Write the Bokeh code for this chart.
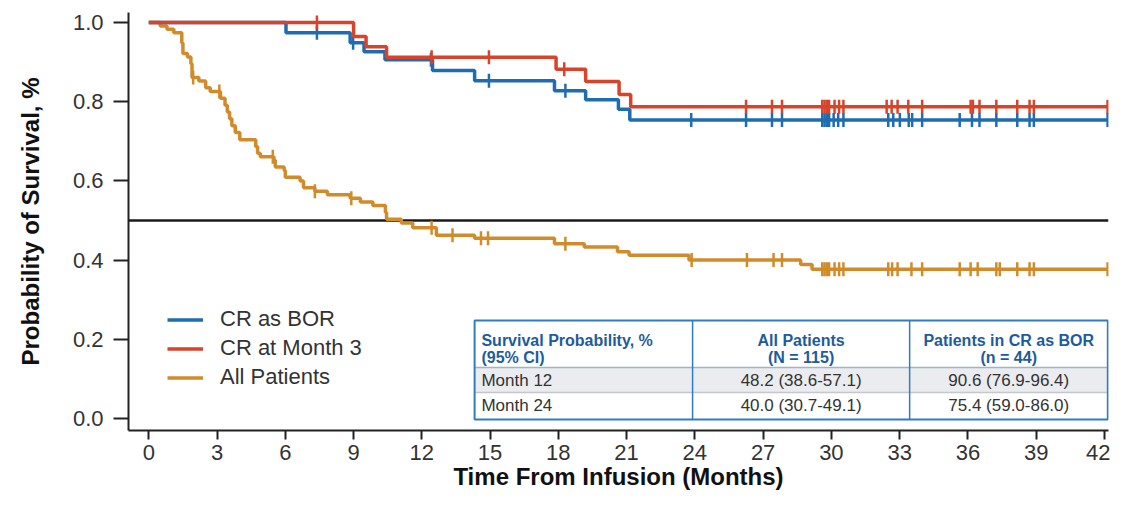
import numpy as np
from bokeh.plotting import figure
from bokeh.models import Span, Legend, LegendItem, FixedTicker, Range1d
from bokeh.core.properties import value
from bokeh.embed import file_html
from bokeh.resources import INLINE

# ---------------- data ----------------
x_ticks = list(range(0, 43, 3))
y_ticks = [0.0, 0.2, 0.4, 0.6, 0.8, 1.0]
y_tick_labels = ["0.0", "0.2", "0.4", "0.6", "0.8", "1.0"]

series_names = ["CR as BOR", "CR at Month 3", "All Patients"]

bor_time = [0, 6.03, 8.85, 9.46, 10.38, 12.47, 14.32, 17.83, 19.2, 20.64, 21.14, 42.14]
bor_surv = [1.0, 0.974, 0.949, 0.926, 0.906, 0.879, 0.853, 0.828, 0.805, 0.781, 0.754, 0.754]
bor_censor = [7.39, 8.98, 12.4, 14.95, 18.31, 23.84, 26.25, 27.39, 27.83, 29.6, 29.7, 29.8,
              29.9, 30.1, 30.3, 30.53, 32.5, 32.72, 33.01, 33.4, 33.55, 33.99, 35.64, 36.18,
              36.51, 37.25, 38.17, 38.71, 38.9, 42.14]

m3_time = [0, 9.0, 9.55, 10.45, 17.9, 19.2, 20.67, 21.18, 42.14]
m3_surv = [1.0, 0.965, 0.939, 0.912, 0.882, 0.851, 0.818, 0.787, 0.787]
m3_censor = [7.39, 12.43, 14.95, 18.26, 26.25, 27.39, 27.83, 29.6, 29.7, 29.8, 29.9, 30.14,
             30.34, 30.53, 32.43, 32.65, 32.91, 33.38, 33.99, 36.12, 36.22, 36.51, 37.25,
             38.17, 38.71, 38.9, 42.14]

all_time = [0, 0.5, 0.8, 1.1, 1.45, 1.5, 1.7, 1.85, 1.9, 2.2, 2.5, 2.7, 3.15, 3.35, 3.45,
            3.55, 3.65, 3.8, 4.0, 4.7, 4.78, 4.9, 5.5, 5.56, 5.95, 6.0, 6.65, 6.8, 7.3, 7.85,
            8.85, 9.3, 9.85, 10.4, 10.45, 11.1, 11.6, 12.64, 14.32, 17.83, 19.14, 20.6,
            21.11, 23.74, 28.65, 29.15, 42.14]
all_surv = [1.0, 0.991, 0.983, 0.974, 0.948, 0.922, 0.913, 0.896, 0.861, 0.852, 0.835,
            0.826, 0.809, 0.791, 0.774, 0.757, 0.739, 0.722, 0.704, 0.687, 0.670, 0.661,
            0.652, 0.635, 0.626, 0.609, 0.600, 0.583, 0.574, 0.565, 0.556, 0.547, 0.538,
            0.520, 0.503, 0.494, 0.482, 0.463, 0.455, 0.441, 0.433, 0.421, 0.412, 0.400,
            0.389, 0.377, 0.377]
all_censor = [1.95, 3.1, 5.45, 7.3, 8.9, 12.43, 13.35, 14.6, 14.91, 18.31, 23.86, 26.29,
              27.46, 27.83, 29.6, 29.7, 29.8, 29.9, 30.14, 30.34, 30.53, 32.5, 32.67, 32.91,
              33.52, 33.99, 35.64, 36.12, 36.43, 37.25, 37.4, 38.17, 38.71, 38.9, 42.14]

median_line = 0.5

table_header = [["Survival Probability, %", "(95% CI)"],
                ["All Patients", "(N = 115)"],
                ["Patients in CR as BOR", "(n = 44)"]]
table_rows = [["Month 12", "48.2 (38.6-57.1)", "90.6 (76.9-96.4)"],
              ["Month 24", "40.0 (30.7-49.1)", "75.4 (59.0-86.0)"]]

# ---------------- styles ----------------
BLUE = "#1f6db1"
RED = "#d8432a"
GOLD = "#d18b2a"
TBL_BLUE = "#2f7dc0"
HDR_BLUE = "#1d5c9c"
TXT = "#333333"
FONT = "Liberation Sans"

X0, X1 = -0.892, 42.18
Y0, Y1 = -0.0303, 1.0253

p = figure(width=1110, height=494, x_range=Range1d(X0, X1), y_range=Range1d(Y0, Y1),
           output_backend="svg", toolbar_location=None,
           min_border_left=128, min_border_right=2, min_border_top=12, min_border_bottom=64)
p.outline_line_color = None
p.xgrid.visible = False
p.ygrid.visible = False
p.background_fill_color = "white"

# axes
p.xaxis.ticker = FixedTicker(ticks=x_ticks)
p.yaxis.ticker = FixedTicker(ticks=y_ticks)
p.yaxis.major_label_overrides = {v: l for v, l in zip(y_ticks, y_tick_labels)}
for ax in (p.xaxis[0], p.yaxis[0]):
    ax.axis_line_width = 2
    ax.axis_line_color = "#222222"
    ax.major_tick_line_width = 2
    ax.major_tick_line_color = "#222222"
    ax.major_tick_in = 0
    ax.minor_tick_line_color = None
    ax.major_label_text_font = FONT
    ax.major_label_text_font_size = "22px"
    ax.major_label_text_color = TXT
    ax.axis_label_text_font = FONT
    ax.axis_label_text_font_style = "bold"
    ax.axis_label_text_font_size = "24px"
    ax.axis_label_text_color = "#111111"
p.yaxis.major_tick_out = 15
p.yaxis.major_label_standoff = 10
p.yaxis.axis_label_standoff = 26
p.yaxis.axis_label = "Probability of Survival, %"
p.xaxis.major_tick_out = 9
p.xaxis.major_label_standoff = 5
p.xaxis.axis_label_standoff = 0
p.xaxis.axis_label = "Time From Infusion (Months)"

# median reference line
p.add_layout(Span(location=median_line, dimension="width", line_color="#1a1a1a",
                  line_width=2.5, level="underlay"))


def censor_y(times, surv, cens):
    t = np.asarray(times)
    s = np.asarray(surv)
    idx = np.searchsorted(t, np.asarray(cens), side="right") - 1
    return s[idx]


renderers = {}
for name, t, s, c, col in [
    ("All Patients", all_time, all_surv, all_censor, GOLD),
    ("CR as BOR", bor_time, bor_surv, bor_censor, BLUE),
    ("CR at Month 3", m3_time, m3_surv, m3_censor, RED),
]:
    r = p.step(t, s, mode="after", line_color=col, line_width=3.5)
    p.scatter(c, censor_y(t, s, c), marker="dash", angle=np.pi / 2, size=14,
              line_color=col, line_width=2.5)
    renderers[name] = r

legend = Legend(items=[LegendItem(label=n, renderers=[renderers[n]]) for n in series_names],
                location=(39, 40), orientation="vertical",
                label_text_font=FONT, label_text_font_size="22px", label_text_color=TXT,
                glyph_width=36, glyph_height=25, label_height=25, label_standoff=17,
                spacing=3, padding=0, margin=0, border_line_color=None,
                background_fill_alpha=0)
p.add_layout(legend)

# ---------------- table ----------------
tx = [14.32, 23.9, 33.44, 42.15]          # column edges (months)
ty = [0.2475, 0.129, 0.0657, -0.0025]     # row edges (probability)

p.quad(left=[tx[0]], right=[tx[3]], top=[ty[1]], bottom=[ty[2]],
       fill_color="#eaecef", line_color=None)
p.segment(x0=[tx[0]], y0=[ty[2]], x1=[tx[3]], y1=[ty[2]], line_color="#c4c7cc", line_width=1.5)
p.segment(x0=[tx[0]], y0=[ty[1]], x1=[tx[3]], y1=[ty[1]], line_color="#9fb4c8", line_width=1.5)
p.segment(x0=tx[1:3], y0=[ty[0]] * 2, x1=tx[1:3], y1=[ty[3]] * 2, line_color=TBL_BLUE, line_width=1.5)
p.quad(left=[tx[0]], right=[tx[3]], top=[ty[0]], bottom=[ty[3]],
       fill_color=None, line_color=TBL_BLUE, line_width=2)

col_x = [tx[0] + 0.3, (tx[1] + tx[2]) / 2, (tx[2] + tx[3]) / 2]
col_align = ["left", "center", "center"]
hdr_y = [0.198, 0.154]
row_y = [0.096, 0.032]

for j, lines in enumerate(table_header):
    p.text(x=[col_x[j]] * 2, y=hdr_y, text=lines, text_align=col_align[j],
           text_baseline="middle", text_font=value(FONT), text_font_style="bold",
           text_font_size="16px", text_color=HDR_BLUE)
for i, row in enumerate(table_rows):
    p.text(x=col_x, y=[row_y[i]] * 3, text=row, text_align=col_align,
           text_baseline="middle", text_font=value(FONT), text_font_size="17px",
           text_color=TXT)

open("out.html", "w").write(file_html(p, INLINE))
